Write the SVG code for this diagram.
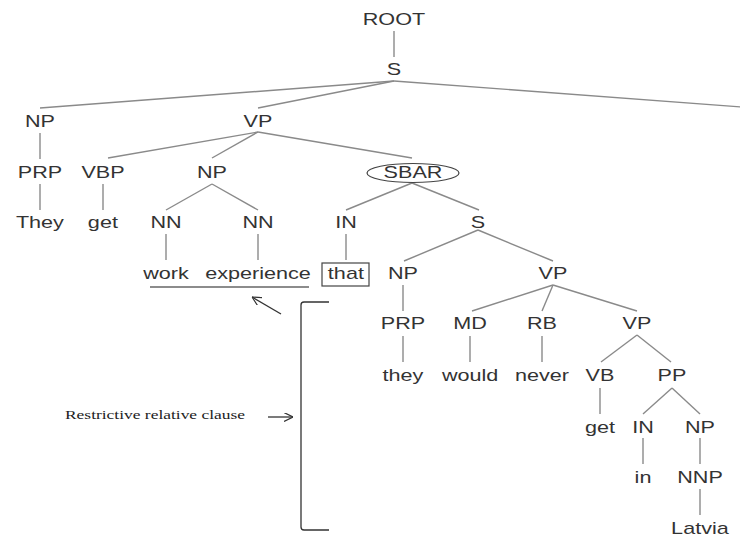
<svg xmlns="http://www.w3.org/2000/svg" width="740" height="536" viewBox="0 0 740 536">
<style>
.t{font-family:"Liberation Sans",Arial,sans-serif;font-size:16px;fill:#333;text-anchor:middle;transform:scaleX(1.35);transform-box:fill-box;transform-origin:center}
.e{stroke:#8a8a8a;stroke-width:1.4;fill:none}
.k{stroke:#333;stroke-width:1.3;fill:none}
.note{font-family:"Liberation Serif","Times New Roman",serif;font-size:12px;fill:#222}
</style>
<defs>
<marker id="ah" viewBox="0 0 10 10" refX="10" refY="5" markerWidth="9" markerHeight="9" markerUnits="userSpaceOnUse" orient="auto">
<path d="M0,0 L10,5 L0,10" fill="none" stroke="#333" stroke-width="1.3"/>
</marker>
</defs>
<rect width="740" height="536" fill="#fff"/>
<g id="connectors" class="e">
<line x1="394" y1="31" x2="394" y2="57"/>
<line x1="394" y1="81" x2="40" y2="108"/>
<line x1="394" y1="81" x2="258" y2="108"/>
<line x1="394" y1="81" x2="742" y2="107"/>
<line x1="40" y1="133" x2="40" y2="159"/>
<line x1="40" y1="184" x2="40" y2="210"/>
<line x1="258" y1="132" x2="108" y2="158"/>
<line x1="258" y1="132" x2="212" y2="158"/>
<line x1="258" y1="132" x2="412" y2="158"/>
<line x1="103" y1="184" x2="103" y2="210"/>
<line x1="212" y1="184" x2="166" y2="210"/>
<line x1="212" y1="184" x2="258" y2="210"/>
<line x1="412" y1="183" x2="346" y2="210"/>
<line x1="412" y1="183" x2="479" y2="210"/>
<line x1="166" y1="234" x2="166" y2="260"/>
<line x1="258" y1="234" x2="258" y2="260"/>
<line x1="346" y1="234" x2="346" y2="260"/>
<line x1="478" y1="230" x2="404" y2="261"/>
<line x1="478" y1="230" x2="553" y2="261"/>
<line x1="403" y1="285" x2="403" y2="311"/>
<line x1="403" y1="336" x2="403" y2="362"/>
<line x1="553" y1="285" x2="472" y2="311"/>
<line x1="553" y1="285" x2="542" y2="311"/>
<line x1="553" y1="285" x2="637" y2="311"/>
<line x1="470" y1="336" x2="470" y2="362"/>
<line x1="542" y1="336" x2="542" y2="362"/>
<line x1="637" y1="335" x2="601" y2="362"/>
<line x1="637" y1="335" x2="671" y2="362"/>
<line x1="600" y1="388" x2="600" y2="414"/>
<line x1="672" y1="388" x2="643" y2="414"/>
<line x1="672" y1="388" x2="700" y2="414"/>
<line x1="643" y1="438" x2="643" y2="464"/>
<line x1="700" y1="438" x2="700" y2="464"/>
<line x1="700" y1="489" x2="700" y2="515"/>
</g>
<g id="n-root"><text class="t" x="394" y="25">ROOT</text></g>
<g id="n-s1"><text class="t" x="394" y="75">S</text></g>
<g id="n-np1"><text class="t" x="40" y="127">NP</text></g>
<g id="n-vp1"><text class="t" x="258" y="127">VP</text></g>
<g id="n-prp1"><text class="t" x="40" y="178">PRP</text></g>
<g id="n-vbp"><text class="t" x="103" y="178">VBP</text></g>
<g id="n-np2"><text class="t" x="212" y="178">NP</text></g>
<g id="n-sbar"><ellipse cx="413" cy="173" rx="46" ry="9.5" fill="none" stroke="#444" stroke-width="1.2"/><text class="t" x="413" y="178">SBAR</text></g>
<g id="n-they1"><text class="t" x="40" y="228">They</text></g>
<g id="n-get1"><text class="t" x="103" y="228">get</text></g>
<g id="n-nn1"><text class="t" x="166" y="228">NN</text></g>
<g id="n-nn2"><text class="t" x="258" y="228">NN</text></g>
<g id="n-in1"><text class="t" x="346" y="228">IN</text></g>
<g id="n-s2"><text class="t" x="478" y="228">S</text></g>
<g id="n-work"><text class="t" x="166" y="279">work</text></g>
<g id="n-experience"><text class="t" x="258" y="279">experience</text></g>
<g id="n-that"><rect x="322" y="263" width="47" height="23" fill="none" stroke="#444" stroke-width="1.2"/><text class="t" x="346" y="279">that</text></g>
<g id="n-np3"><text class="t" x="403" y="279">NP</text></g>
<g id="n-vp2"><text class="t" x="553" y="279">VP</text></g>
<g id="n-prp2"><text class="t" x="403" y="329">PRP</text></g>
<g id="n-md"><text class="t" x="470" y="329">MD</text></g>
<g id="n-rb"><text class="t" x="542" y="329">RB</text></g>
<g id="n-vp3"><text class="t" x="637" y="329">VP</text></g>
<g id="n-they2"><text class="t" x="403" y="381">they</text></g>
<g id="n-would"><text class="t" x="470" y="381">would</text></g>
<g id="n-never"><text class="t" x="542" y="381">never</text></g>
<g id="n-vb"><text class="t" x="600" y="381">VB</text></g>
<g id="n-pp"><text class="t" x="672" y="381">PP</text></g>
<g id="n-get2"><text class="t" x="600" y="433">get</text></g>
<g id="n-in2"><text class="t" x="643" y="433">IN</text></g>
<g id="n-np4"><text class="t" x="700" y="433">NP</text></g>
<g id="n-in-word"><text class="t" x="643" y="483">in</text></g>
<g id="n-nnp"><text class="t" x="700" y="483">NNP</text></g>
<g id="n-latvia"><text class="t" x="700" y="534">Latvia</text></g>
<g id="annotation">
<line x1="150" y1="287" x2="309" y2="287" stroke="#666" stroke-width="1.3"/>
<line class="k" x1="281" y1="314" x2="252" y2="297" marker-end="url(#ah)"/>
<path class="k" d="M329,302 L304,302 Q301,302 301,305 L301,527 Q301,530 304,530 L329,530"/>
<text class="note" x="65" y="419" textLength="180" lengthAdjust="spacingAndGlyphs">Restrictive relative clause</text>
<line class="k" x1="268" y1="417" x2="293" y2="417" marker-end="url(#ah)"/>
</g>
</svg>
